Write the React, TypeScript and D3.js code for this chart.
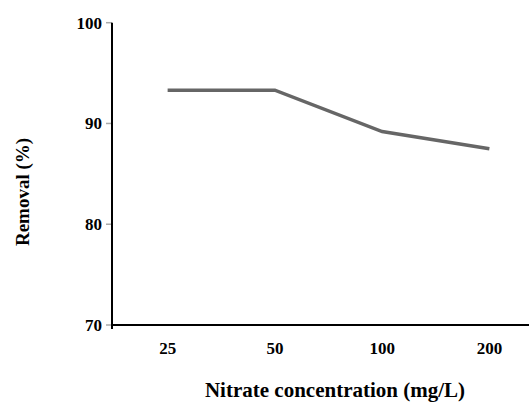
import React from "react";
import * as d3 from "d3";

const categories: string[] = ["25", "50", "100", "200"];
const removal: number[] = [93.3, 93.3, 89.2, 87.5];
const yTicks: number[] = [70, 80, 90, 100];

const W = 529;
const H = 402;
const FONT = '"Liberation Serif", "Times New Roman", Times, serif';

export default function App() {
  const left = 112;
  const top = 22.7;
  const bottom = 325;

  const x = d3.scaleBand<string>().domain(categories).range([114, 543]);
  const y = d3.scaleLinear().domain([70, 100]).range([bottom, top]);

  const line = d3
    .line<number>()
    .x((_, i) => (x(categories[i]) as number) + x.bandwidth() / 2)
    .y((d) => y(d));

  const textStyle: React.CSSProperties = { fontFamily: FONT, fontWeight: "bold" };

  return (
    <svg
      width={W}
      height={H}
      style={{ position: "absolute", left: 0, top: 0, background: "#fff" }}
    >
      {/* y ticks */}
      {yTicks.map((t) => (
        <g key={t}>
          <line x1={left - 6} x2={left} y1={y(t)} y2={y(t)} stroke="#aaa" strokeWidth={1.5} />
          <text
            x={left - 10}
            y={y(t)}
            dy="0.35em"
            textAnchor="end"
            fontSize={17}
            style={textStyle}
          >
            {t}
          </text>
        </g>
      ))}
      {/* axes */}
      <line x1={left} x2={left} y1={y(100)} y2={bottom + 4} stroke="#000" strokeWidth={2} />
      <line x1={left} x2={W} y1={bottom} y2={bottom} stroke="#000" strokeWidth={2} />
      {/* x tick labels */}
      {categories.map((c) => (
        <text
          key={c}
          x={(x(c) as number) + x.bandwidth() / 2}
          y={354}
          textAnchor="middle"
          fontSize={17}
          style={textStyle}
        >
          {c}
        </text>
      ))}
      {/* series */}
      <path d={line(removal) || ""} fill="none" stroke="#666" strokeWidth={3.5} />
      {/* axis titles */}
      <text x={335} y={397} textAnchor="middle" fontSize={21} style={textStyle}>
        Nitrate concentration (mg/L)
      </text>
      <text
        transform={`translate(29,192) rotate(-90)`}
        textAnchor="middle"
        fontSize={19}
        style={textStyle}
      >
        Removal (%)
      </text>
    </svg>
  );
}
